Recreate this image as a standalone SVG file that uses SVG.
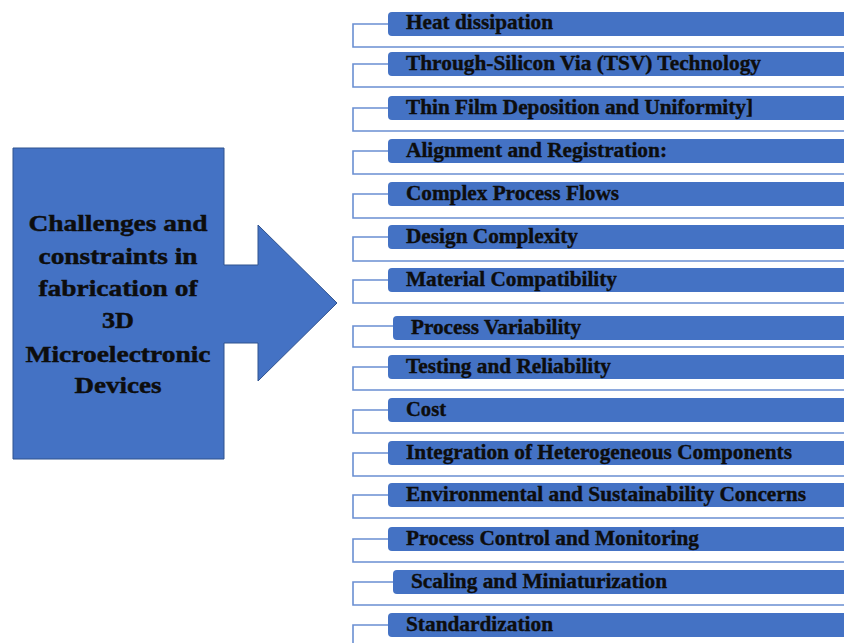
<svg xmlns="http://www.w3.org/2000/svg" width="844" height="643" viewBox="0 0 844 643">
<style>
.bar{fill:#4472C4}
.br{fill:none;stroke:#6A8FD2;stroke-width:1.6}
.t{font-family:"Liberation Serif","Times New Roman",serif;font-weight:bold;font-size:20px;fill:#0d0d0d;stroke:#0d0d0d;stroke-width:0.35}
.mt{font-family:"Liberation Serif","Times New Roman",serif;font-weight:bold;font-size:24px;fill:#0d0d0d;stroke:#0d0d0d;stroke-width:0.45;text-anchor:middle}
</style>
<rect width="844" height="643" fill="#ffffff"/>
<g id="main">
<path d="M13,148 H224 V265 H258 V225 L337,303 L258,381 V343 H224 V459 H13 Z" fill="#4472C4" stroke="#2F528F" stroke-width="1"/>
<text class="mt" x="118" y="231" textLength="179" lengthAdjust="spacingAndGlyphs">Challenges and</text>
<text class="mt" x="118" y="263.5" textLength="159" lengthAdjust="spacingAndGlyphs">constraints in</text>
<text class="mt" x="118" y="296" textLength="159" lengthAdjust="spacingAndGlyphs">fabrication of</text>
<text class="mt" x="118" y="328" textLength="32" lengthAdjust="spacingAndGlyphs">3D</text>
<text class="mt" x="118" y="362" textLength="185" lengthAdjust="spacingAndGlyphs">Microelectronic</text>
<text class="mt" x="118" y="393" textLength="87" lengthAdjust="spacingAndGlyphs">Devices</text>
</g>
<g id="connectors">
<path class="br" d="M388,24 H353 V47 H844"/>
<path class="br" d="M388,64 H353 V87 H844"/>
<path class="br" d="M388,108 H353 V131 H844"/>
<path class="br" d="M388,151 H353 V174 H844"/>
<path class="br" d="M388,194 H353 V218 H844"/>
<path class="br" d="M388,237 H353 V261 H844"/>
<path class="br" d="M388,280 H353 V303 H844"/>
<path class="br" d="M393,326 H353 V347 H844"/>
<path class="br" d="M388,367 H353 V390 H844"/>
<path class="br" d="M388,410 H353 V433 H844"/>
<path class="br" d="M388,453 H353 V476 H844"/>
<path class="br" d="M388,495 H353 V518 H844"/>
<path class="br" d="M388,539 H353 V562 H844"/>
<path class="br" d="M393,582 H353 V605 H844"/>
<path class="br" d="M388,625 H353 V648 H844"/>
</g>
<g id="n1"><rect class="bar" x="388" y="12" width="470" height="24" rx="4"/><text class="t" x="406" y="29" textLength="147" lengthAdjust="spacingAndGlyphs">Heat dissipation</text></g>
<g id="n2"><rect class="bar" x="388" y="52" width="470" height="24" rx="4"/><text class="t" x="406" y="70" textLength="355" lengthAdjust="spacingAndGlyphs">Through-Silicon Via (TSV) Technology</text></g>
<g id="n3"><rect class="bar" x="388" y="96" width="470" height="24" rx="4"/><text class="t" x="406" y="113.5" textLength="347" lengthAdjust="spacingAndGlyphs">Thin Film Deposition and Uniformity]</text></g>
<g id="n4"><rect class="bar" x="388" y="139" width="470" height="24" rx="4"/><text class="t" x="406" y="156.5" textLength="261" lengthAdjust="spacingAndGlyphs">Alignment and Registration:</text></g>
<g id="n5"><rect class="bar" x="388" y="182" width="470" height="24" rx="4"/><text class="t" x="406" y="199.5" textLength="213" lengthAdjust="spacingAndGlyphs">Complex Process Flows</text></g>
<g id="n6"><rect class="bar" x="388" y="225" width="470" height="24" rx="4"/><text class="t" x="406" y="242.5" textLength="172" lengthAdjust="spacingAndGlyphs">Design Complexity</text></g>
<g id="n7"><rect class="bar" x="388" y="268" width="470" height="24" rx="4"/><text class="t" x="406" y="285.5" textLength="211" lengthAdjust="spacingAndGlyphs">Material Compatibility</text></g>
<g id="n8"><rect class="bar" x="393" y="316" width="470" height="24" rx="4"/><text class="t" x="411" y="333.5" textLength="170" lengthAdjust="spacingAndGlyphs">Process Variability</text></g>
<g id="n9"><rect class="bar" x="388" y="355" width="470" height="24" rx="4"/><text class="t" x="406" y="372.5" textLength="205" lengthAdjust="spacingAndGlyphs">Testing and Reliability</text></g>
<g id="n10"><rect class="bar" x="388" y="398" width="470" height="24" rx="4"/><text class="t" x="406" y="415.5" textLength="40" lengthAdjust="spacingAndGlyphs">Cost</text></g>
<g id="n11"><rect class="bar" x="388" y="441" width="470" height="24" rx="4"/><text class="t" x="406" y="458.5" textLength="386" lengthAdjust="spacingAndGlyphs">Integration of Heterogeneous Components</text></g>
<g id="n12"><rect class="bar" x="388" y="483" width="470" height="24" rx="4"/><text class="t" x="406" y="500.5" textLength="400" lengthAdjust="spacingAndGlyphs">Environmental and Sustainability Concerns</text></g>
<g id="n13"><rect class="bar" x="388" y="527" width="470" height="24" rx="4"/><text class="t" x="406" y="544.5" textLength="293" lengthAdjust="spacingAndGlyphs">Process Control and Monitoring</text></g>
<g id="n14"><rect class="bar" x="393" y="570" width="470" height="24" rx="4"/><text class="t" x="411" y="587.5" textLength="256" lengthAdjust="spacingAndGlyphs">Scaling and Miniaturization</text></g>
<g id="n15"><rect class="bar" x="388" y="613" width="470" height="24" rx="4"/><text class="t" x="406" y="630.5" textLength="147" lengthAdjust="spacingAndGlyphs">Standardization</text></g>
</svg>
